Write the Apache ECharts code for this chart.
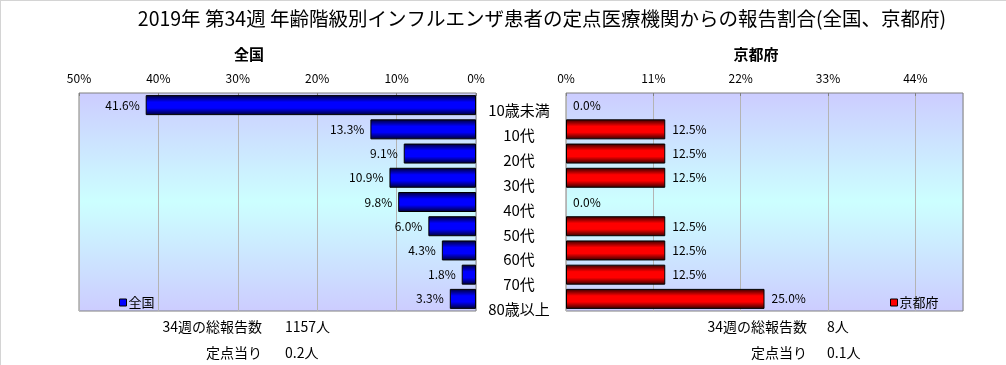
<!DOCTYPE html>
<html>
<head>
<meta charset="utf-8">
<script src="https://cdn.jsdelivr.net/npm/echarts@6/dist/echarts.min.js"></script>
<style>
html,body{margin:0;padding:0;background:#fff;}
#c{width:1006px;height:365px;}
</style>
</head>
<body>
<div id="c"></div>
<script>
const titleText = '2019年 第34週 年齢階級別インフルエンザ患者の定点医療機関からの報告割合(全国、京都府)';
const categories = ['10歳未満','10代','20代','30代','40代','50代','60代','70代','80歳以上'];
const nationalName = '全国';
const kyotoName = '京都府';
const nationalValues = [41.6, 13.3, 9.1, 10.9, 9.8, 6.0, 4.3, 1.8, 3.3];
const kyotoValues = [0.0, 12.5, 12.5, 12.5, 0.0, 12.5, 12.5, 12.5, 25.0];
const nationalTotalLabel = '34週の総報告数';
const nationalTotal = '1157人';
const nationalPerLabel = '定点当り';
const nationalPer = '0.2人';
const kyotoTotalLabel = '34週の総報告数';
const kyotoTotal = '8人';
const kyotoPerLabel = '定点当り';
const kyotoPer = '0.1人';

const FONT = '"Noto Sans CJK JP", "Noto Sans", sans-serif';
const chart = echarts.init(document.getElementById('c'), null, {renderer: 'canvas'});

const bgGrad = new echarts.graphic.LinearGradient(0, 0, 0, 1, [
  {offset: 0, color: '#ccccff'},
  {offset: 0.5, color: '#ccffff'},
  {offset: 1, color: '#ccccff'}
]);
const blueGrad = new echarts.graphic.LinearGradient(0, 0, 0, 1, [
  {offset: 0, color: '#000030'},
  {offset: 0.35, color: '#0000ff'},
  {offset: 0.65, color: '#0000ff'},
  {offset: 1, color: '#000030'}
]);
const redGrad = new echarts.graphic.LinearGradient(0, 0, 0, 1, [
  {offset: 0, color: '#300000'},
  {offset: 0.35, color: '#ff0000'},
  {offset: 0.65, color: '#ff0000'},
  {offset: 1, color: '#300000'}
]);

// zero-length bars draw no outline
const withZeroHidden = arr => arr.map(v => v === 0 ? {value: v, itemStyle: {borderWidth: 0}} : v);

const pct = p => p.value.toFixed(1) + '%';
const axisLabelStyle = {fontFamily: FONT, fontSize: 12, color: '#000', margin: 9, formatter: '{value}%'};
const splitLineStyle = {show: true, lineStyle: {color: '#b4b4b4', width: 1}};

const option = {
  animation: false,
  backgroundColor: '#fff',
  textStyle: {fontFamily: FONT},
  title: [
    {text: titleText, left: 537, top: 4, textAlign: 'center',
     textStyle: {fontFamily: FONT, fontSize: 19.5, fontWeight: 'normal', color: '#000'}},
    {text: nationalName, left: 244, top: 42, textAlign: 'center',
     textStyle: {fontFamily: FONT, fontSize: 15, fontWeight: 'bold', color: '#000'}},
    {text: kyotoName, left: 751, top: 42, textAlign: 'center',
     textStyle: {fontFamily: FONT, fontSize: 15, fontWeight: 'bold', color: '#000'}}
  ],
  legend: [
    {data: [{name: nationalName, itemStyle: {color: '#0000ff', borderColor: '#000', borderWidth: 1}}],
     left: 114, top: 291, icon: 'rect', itemWidth: 7, itemHeight: 7,
     textStyle: {fontFamily: FONT, fontSize: 13, color: '#000', padding: [0, 0, 0, -3]}},
    {data: [{name: kyotoName, itemStyle: {color: '#ff0000', borderColor: '#000', borderWidth: 1}}],
     left: 885, top: 291, icon: 'rect', itemWidth: 7, itemHeight: 7,
     textStyle: {fontFamily: FONT, fontSize: 13, color: '#000', padding: [0, 0, 0, -3]}}
  ],
  grid: [
    {left: 79, width: 397, top: 93, height: 218, show: true, backgroundColor: bgGrad,
     borderColor: '#808080', borderWidth: 1},
    {left: 566, width: 397, top: 93, height: 218, show: true, backgroundColor: bgGrad,
     borderColor: '#808080', borderWidth: 1},
    {left: 566, width: 1, top: 98, height: 224, show: false}
  ],
  xAxis: [
    {gridIndex: 0, type: 'value', min: 0, max: 50, interval: 10, inverse: true, position: 'top',
     axisLine: {show: false}, axisTick: {show: true, inside: true, length: 3, lineStyle: {color: '#808080'}},
     axisLabel: axisLabelStyle, splitLine: splitLineStyle},
    {gridIndex: 1, type: 'value', min: 0, max: 50, interval: 11, position: 'top',
     axisLine: {show: false}, axisTick: {show: true, inside: true, length: 3, lineStyle: {color: '#808080'}},
     axisLabel: Object.assign({}, axisLabelStyle, {showMaxLabel: false}), splitLine: splitLineStyle},
    {gridIndex: 2, type: 'value', show: false}
  ],
  yAxis: [
    {gridIndex: 0, type: 'category', data: categories, inverse: true,
     axisLine: {show: false}, axisTick: {show: false}, axisLabel: {show: false}},
    {gridIndex: 1, type: 'category', data: categories, inverse: true,
     axisLine: {show: false}, axisTick: {show: false}, axisLabel: {show: false}},
    {gridIndex: 2, type: 'category', data: categories, inverse: true,
     axisLine: {show: false}, axisTick: {show: false},
     axisLabel: {show: true, align: 'center', margin: 47, fontFamily: FONT, fontSize: 15, color: '#000'}}
  ],
  series: [
    {name: nationalName, type: 'bar', xAxisIndex: 0, yAxisIndex: 0, data: withZeroHidden(nationalValues),
     barWidth: 20,
     itemStyle: {color: blueGrad, borderColor: '#000', borderWidth: 1},
     label: {show: true, position: 'left', distance: 6, formatter: pct,
             fontFamily: FONT, fontSize: 12, color: '#000'}},
    {name: kyotoName, type: 'bar', xAxisIndex: 1, yAxisIndex: 1, data: withZeroHidden(kyotoValues),
     barWidth: 20,
     itemStyle: {color: redGrad, borderColor: '#000', borderWidth: 1},
     label: {show: true, position: 'right', distance: 7, formatter: pct,
             fontFamily: FONT, fontSize: 12, color: '#000'}}
  ],
  graphic: [
    {type: 'rect', shape: {x: 0, y: 0, width: 1006, height: 1}, style: {fill: '#d4d4d4'}, silent: true},
    {type: 'rect', shape: {x: 0, y: 0, width: 1, height: 365}, style: {fill: '#d4d4d4'}, silent: true},
    {type: 'text', x: 262, y: 327, style: {text: nationalTotalLabel, align: 'right', verticalAlign: 'middle', font: '14px ' + FONT, fill: '#000'}},
    {type: 'text', x: 285, y: 327, style: {text: nationalTotal, align: 'left', verticalAlign: 'middle', font: '14px ' + FONT, fill: '#000'}},
    {type: 'text', x: 262, y: 353, style: {text: nationalPerLabel, align: 'right', verticalAlign: 'middle', font: '14px ' + FONT, fill: '#000'}},
    {type: 'text', x: 285, y: 353, style: {text: nationalPer, align: 'left', verticalAlign: 'middle', font: '14px ' + FONT, fill: '#000'}},
    {type: 'text', x: 807, y: 327, style: {text: kyotoTotalLabel, align: 'right', verticalAlign: 'middle', font: '14px ' + FONT, fill: '#000'}},
    {type: 'text', x: 827, y: 327, style: {text: kyotoTotal, align: 'left', verticalAlign: 'middle', font: '14px ' + FONT, fill: '#000'}},
    {type: 'text', x: 807, y: 353, style: {text: kyotoPerLabel, align: 'right', verticalAlign: 'middle', font: '14px ' + FONT, fill: '#000'}},
    {type: 'text', x: 827, y: 353, style: {text: kyotoPer, align: 'left', verticalAlign: 'middle', font: '14px ' + FONT, fill: '#000'}}
  ]
};
chart.setOption(option);
</script>
</body>
</html>
